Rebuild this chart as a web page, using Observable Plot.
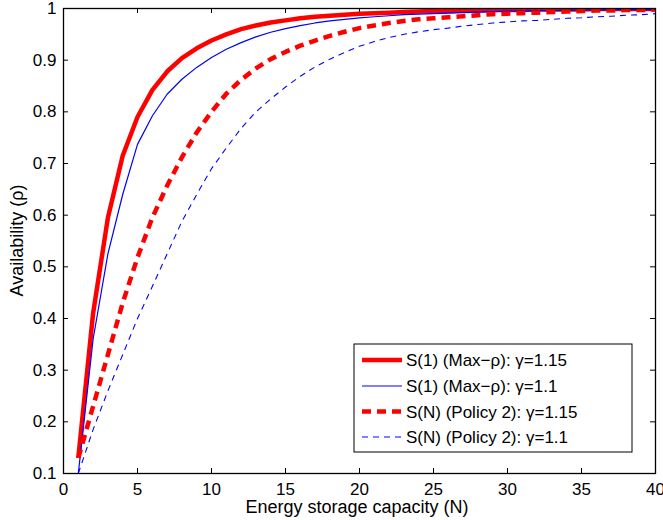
<!DOCTYPE html>
<html>
<head>
<meta charset="utf-8">
<script src="https://cdn.jsdelivr.net/npm/d3@7"></script>
<script src="https://cdn.jsdelivr.net/npm/@observablehq/plot@0.6"></script>
<style>
  html, body { margin: 0; padding: 0; background: #fff; }
</style>
</head>
<body>
<div id="chart"></div>
<script>
// Energy storage capacity N
const N = d3.range(1, 41);

// S(1) (Max-ρ), γ=1.15
const s1g115 = [0.13, 0.41, 0.595, 0.715, 0.79, 0.842, 0.878, 0.904, 0.923, 0.938,
  0.95, 0.96, 0.967, 0.973, 0.977, 0.981, 0.984, 0.986, 0.988, 0.99,
  0.991, 0.992, 0.993, 0.994, 0.995, 0.995, 0.996, 0.996, 0.997, 0.997,
  0.997, 0.998, 0.998, 0.998, 0.998, 0.999, 0.999, 0.999, 0.999, 0.999];
// S(1) (Max-ρ), γ=1.1
const s1g110 = [0.1, 0.36, 0.525, 0.64, 0.737, 0.792, 0.834, 0.863, 0.886, 0.905,
  0.921, 0.934, 0.945, 0.954, 0.961, 0.967, 0.972, 0.976, 0.979, 0.982,
  0.984, 0.986, 0.988, 0.989, 0.99, 0.991, 0.992, 0.993, 0.994, 0.995,
  0.995, 0.996, 0.996, 0.997, 0.997, 0.997, 0.998, 0.998, 0.998, 0.998];
// S(N) (Policy 2), γ=1.15
const sNg115 = [0.13, 0.23, 0.33, 0.43, 0.518, 0.595, 0.657, 0.712, 0.76, 0.80,
  0.835, 0.862, 0.884, 0.902, 0.916, 0.928, 0.938, 0.947, 0.955, 0.962,
  0.967, 0.972, 0.976, 0.979, 0.981, 0.983, 0.985, 0.987, 0.989, 0.99,
  0.991, 0.992, 0.993, 0.994, 0.995, 0.996, 0.996, 0.997, 0.997, 0.998];
// S(N) (Policy 2), γ=1.1
const sNg110 = [0.1, 0.185, 0.26, 0.33, 0.40, 0.462, 0.525, 0.588, 0.64, 0.69,
  0.73, 0.768, 0.80, 0.825, 0.848, 0.869, 0.887, 0.902, 0.915, 0.927,
  0.936, 0.944, 0.95, 0.955, 0.959, 0.962, 0.966, 0.969, 0.972, 0.974,
  0.976, 0.977, 0.979, 0.981, 0.982, 0.984, 0.985, 0.987, 0.988, 0.99];

const seriesNames = ["S(1) (Max\u2212\u03c1): \u03b3=1.15", "S(1) (Max\u2212\u03c1): \u03b3=1.1",
  "S(N) (Policy 2): \u03b3=1.15", "S(N) (Policy 2): \u03b3=1.1"];
const seriesValues = [s1g115, s1g110, sNg115, sNg110];
const xTicks = [0, 5, 10, 15, 20, 25, 30, 35, 40];
const yTicks = [0.1, 0.2, 0.3, 0.4, 0.5, 0.6, 0.7, 0.8, 0.9, 1];
const xLabel = "Energy storage capacity (N)";
const yLabel = "Availability (\u03c1)";

const styles = [
  {stroke: "#ff0000", strokeWidth: 4.5, dash: null},
  {stroke: "#0000ff", strokeWidth: 1.2, dash: null},
  {stroke: "#ff0000", strokeWidth: 4.5, dash: "9,6"},
  {stroke: "#0000ff", strokeWidth: 1.1, dash: "6,5"}
];

const rows = seriesValues.map(vals => N.map((n, i) => ({n, v: vals[i]})));

const W = 663, H = 520;
const mL = 63, mR = 8, mT = 8, mB = 47;
const font = "'Liberation Sans', Arial, Helvetica, sans-serif";

const tickLenX = 5 / ((H - mT - mB) / 0.9);  // in y data units
const tickLenY = 5 / ((W - mL - mR) / 40);   // in x data units

const plot = Plot.plot({
  width: W,
  height: H,
  marginLeft: mL,
  marginRight: mR,
  marginTop: mT,
  marginBottom: mB,
  style: {fontFamily: font, fontSize: "17px", color: "#000", background: "#fff"},
  x: {domain: [0, 40]},
  y: {domain: [0.1, 1]},
  marks: [
    Plot.axisX({ticks: xTicks, tickSize: 0, tickPadding: 9, label: null, fontSize: 17}),
    Plot.axisY({ticks: yTicks, tickSize: 0, tickPadding: 7, label: null, fontSize: 17,
      tickFormat: d => d === 1 ? "1" : d.toFixed(1)}),
    // inward ticks
    Plot.ruleX(xTicks.slice(1, -1), {x: d => d, y1: 0.1, y2: 0.1 + tickLenX, stroke: "#000", strokeWidth: 1}),
    Plot.ruleX(xTicks.slice(1, -1), {x: d => d, y1: 1 - tickLenX, y2: 1, stroke: "#000", strokeWidth: 1}),
    Plot.ruleY(yTicks.slice(1, -1), {y: d => d, x1: 0, x2: tickLenY, stroke: "#000", strokeWidth: 1}),
    Plot.ruleY(yTicks.slice(1, -1), {y: d => d, x1: 40 - tickLenY, x2: 40, stroke: "#000", strokeWidth: 1}),
    ...rows.map((r, i) => Plot.line(r, {
      x: "n", y: "v", stroke: styles[i].stroke, strokeWidth: styles[i].strokeWidth,
      strokeDasharray: styles[i].dash, strokeLinecap: "butt", strokeLinejoin: "round", clip: true
    })),
    Plot.frame({stroke: "#000", strokeWidth: 1.3})
  ]
});

document.getElementById("chart").appendChild(plot);
const svg = d3.select(plot);

// axis labels
svg.append("text")
  .attr("x", 357).attr("y", 513)
  .attr("text-anchor", "middle")
  .style("font-family", font).style("font-size", "18px").attr("fill", "#000")
  .text(xLabel);
svg.append("text")
  .attr("transform", `translate(23,${(mT + H - mB) / 2}) rotate(-90)`)
  .attr("text-anchor", "middle")
  .style("font-family", font).style("font-size", "18px").attr("fill", "#000")
  .text(yLabel);

// legend
const lg = svg.append("g");
lg.append("rect").attr("x", 354).attr("y", 344).attr("width", 278).attr("height", 108)
  .attr("fill", "#fff").attr("stroke", "#000").attr("stroke-width", 1);
const rowY = [360, 386, 411.5, 437];
seriesNames.forEach((name, i) => {
  lg.append("line").attr("x1", 362).attr("x2", 402).attr("y1", rowY[i]).attr("y2", rowY[i])
    .attr("stroke", styles[i].stroke).attr("stroke-width", styles[i].strokeWidth)
    .attr("stroke-dasharray", styles[i].dash);
  lg.append("text").attr("x", 406).attr("y", rowY[i] + 6)
    .attr("text-anchor", "start")
    .style("font-family", font).style("font-size", "17px").attr("fill", "#000")
    .text(name);
});
</script>
</body>
</html>
